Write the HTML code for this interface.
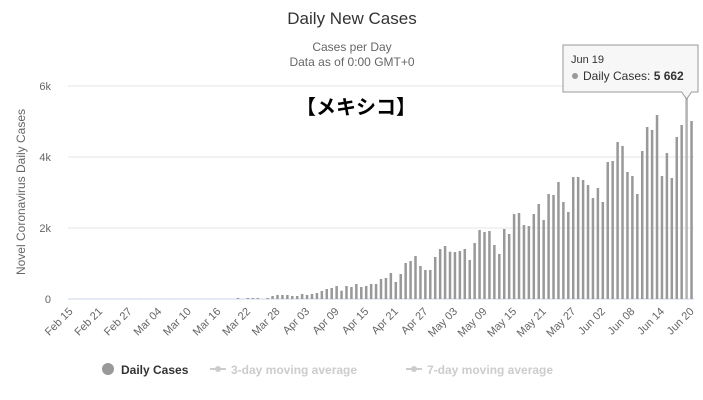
<!DOCTYPE html>
<html><head><meta charset="utf-8">
<style>
html,body{margin:0;padding:0;background:#fff;}
svg{display:block;font-family:"Liberation Sans","Noto Sans CJK JP",sans-serif;}
</style></head>
<body>
<svg id="chart" width="703" height="400" viewBox="0 0 703 400">
  <text x="352" y="24" text-anchor="middle" font-size="17" fill="#333">Daily New Cases</text>
  <text x="352" y="51" text-anchor="middle" font-size="12" fill="#666">Cases per Day</text>
  <text x="352" y="66" text-anchor="middle" font-size="12" fill="#666">Data as of 0:00 GMT+0</text>
  <text x="25" y="192" text-anchor="middle" font-size="12" fill="#666" transform="rotate(-90 25 192)">Novel Coronavirus Daily Cases</text>
  <g id="grid"></g>
  <g id="bars"></g>
  <g id="xlabels"></g>
  <text x="356" y="114" text-anchor="middle" font-size="20" font-weight="bold" fill="#000">【メキシコ】</text>
  <g id="legend">
    <g>
      <circle cx="108" cy="369" r="6" fill="#999"/>
      <text x="121" y="374" font-size="12" font-weight="bold" fill="#333">Daily Cases</text>
    </g>
    <g>
      <line x1="210" y1="369" x2="226" y2="369" stroke="#ccc" stroke-width="2"/>
      <circle cx="218" cy="369" r="3" fill="#ccc"/>
      <text x="231" y="374" font-size="12" font-weight="bold" fill="#ccc">3-day moving average</text>
    </g>
    <g>
      <line x1="406" y1="369" x2="422" y2="369" stroke="#ccc" stroke-width="2"/>
      <circle cx="414" cy="369" r="3" fill="#ccc"/>
      <text x="427" y="374" font-size="12" font-weight="bold" fill="#ccc">7-day moving average</text>
    </g>
  </g>
  <g id="tooltip"></g>
</svg>
<script>
const categoriesStart = [2020, 1, 15];
const dailyCases = [
0,0,0,0,0,0,0,0,0,0,0,0,0,1,3,
0,1,0,0,0,1,0,0,0,0,0,0,0,0,2,0,0,0,0,28,0,28,28,28,0,28,85,113,113,113,85,
85,141,113,141,169,225,282,310,366,235,366,338,423,338,366,423,423,563,592,732,479,704,1014,1070,1211,930,817,817,1183,1408,
1493,1333,1324,1352,1408,1099,1577,1944,1887,1915,1521,1268,1972,1831,2394,2423,2085,2056,2394,2676,2225,2958,2930,3296,2732,2451,3437,3437,3352,3211,2845,
3127,2732,3859,3887,4423,4310,3577,3465,2958,4169,4845,4760,5183,3465,4113,3408,4563,4901,5662,5014
];
const yTicks = [0, 2000, 4000, 6000];
const yTickLabels = ["0", "2k", "4k", "6k"];
const highlightIndex = 125;

const NS = "http://www.w3.org/2000/svg";
const X0 = 68, X1 = 694, Y0 = 299, Y1 = 86, YMAX = 6000;
const n = dailyCases.length;
const step = (X1 - X0) / n;
function xScale(i){ return X0 + (i + 0.5) * step; }
function yScale(v){ return Y0 - v / YMAX * (Y0 - Y1); }
function mk(tag, attrs){ const e = document.createElementNS(NS, tag); for (const k in attrs) e.setAttribute(k, attrs[k]); return e; }

const months = ["Jan","Feb","Mar","Apr","May","Jun","Jul","Aug","Sep","Oct","Nov","Dec"];
function dateLabel(i){ const d = new Date(categoriesStart[0], categoriesStart[1], categoriesStart[2] + i); return months[d.getMonth()] + " " + String(d.getDate()).padStart(2, "0"); }

const grid = document.getElementById("grid");
yTicks.forEach((t, k) => {
  const y = yScale(t);
  const ln = mk("line", {x1: X0, x2: X1, y1: y, y2: y, stroke: t === 0 ? "#ccd6eb" : "#e6e6e6", "stroke-width": 1});
  
  
  grid.appendChild(ln);
  const tx = mk("text", {x: 51, y: y + 4, "text-anchor": "end", "font-size": 11, fill: "#666"});
  tx.textContent = yTickLabels[k];
  
  
  grid.appendChild(tx);
});

const bars = document.getElementById("bars");
dailyCases.forEach((v, i) => {
  if (v <= 0) return;
  const y = yScale(v);
  const r = mk("rect", {x: xScale(i) - 1.25, y: y, width: 2.5, height: Y0 - y, fill: i === highlightIndex ? "#b3b3b3" : "#999"});
  
  
  bars.appendChild(r);
});

const xl = document.getElementById("xlabels");
for (let i = 0; i < n; i += 6) {
  const x = xScale(i), y = 312;
  const t = mk("text", {x: x + 3, y: y, "text-anchor": "end", "font-size": 11, fill: "#666", transform: "rotate(-45 " + (x + 3) + " " + y + ")"});
  t.textContent = dateLabel(i);
  
  
  xl.appendChild(t);
}

const tt = document.getElementById("tooltip");
const hx = xScale(highlightIndex);
const g = mk("g", {});


g.appendChild(mk("line", {x1: hx, x2: hx, y1: 91, y2: yScale(dailyCases[highlightIndex]), stroke: "#aaa", "stroke-width": 1.5}));
g.appendChild(mk("path", {d: "M563 45 H698 V92 H" + (hx + 5) + " L" + hx + " 99 L" + (hx - 5) + " 92 H563 Z", fill: "#f7f7f7", stroke: "#999", "stroke-width": 1, "fill-opacity": 0.95}));
const t1 = mk("text", {x: 571, y: 63, "font-size": 11, fill: "#333"}); t1.textContent = dateLabel(highlightIndex).replace(/ 0/, " ");
g.appendChild(t1);
g.appendChild(mk("circle", {cx: 575, cy: 76, r: 3, fill: "#999"}));
const t2 = mk("text", {x: 583, y: 80, "font-size": 12, fill: "#333"}); t2.textContent = "Daily Cases: ";
const b = mk("tspan", {"font-weight": "bold"}); b.textContent = dailyCases[highlightIndex].toLocaleString("en-US").replace(",", " ");
t2.appendChild(b); g.appendChild(t2);
tt.appendChild(g);
</script>
</body></html>
